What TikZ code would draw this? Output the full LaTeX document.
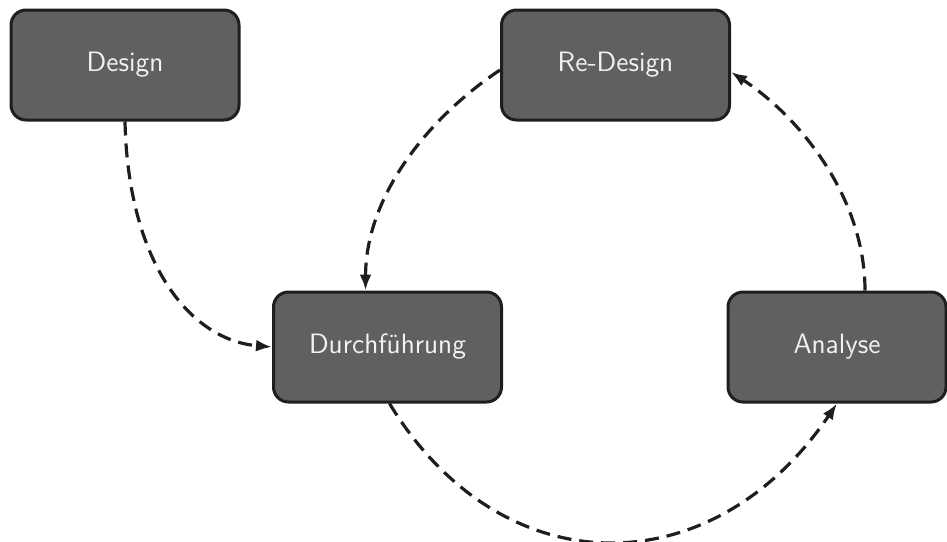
\documentclass[tikz,border=0pt]{standalone}
\usetikzlibrary{arrows.meta,calc}
\renewcommand{\familydefault}{\sfdefault}
\definecolor{boxfill}{HTML}{606062}
\definecolor{boxline}{HTML}{1E1E1E}
\definecolor{boxtext}{HTML}{F2F2F2}
\tikzset{
  stagebox/.style={draw=boxline, line width=1.5pt, fill=boxfill, rounded corners=7.5pt,
    minimum width=114pt, minimum height=55pt, text=boxtext, font=\fontsize{14}{16}\selectfont, inner sep=0pt},
  flow/.style={draw=boxline, line width=1.6pt, dash pattern=on 7pt off 4pt,
    -{Latex[length=8pt,width=6pt]}}
}
\begin{document}
\begin{tikzpicture}[x=0.5pt,y=-0.5pt]
\useasboundingbox (0,0) rectangle (947,541);
\node[stagebox] (ds) at (125,65) {Design};
\node[stagebox] (rd) at (615.5,65) {Re-Design};
\node[stagebox] (du) at (387.5,347) {Durchführung};
\node[stagebox, minimum width=109pt] (an) at (837,347) {Analyse};
\draw[flow] (ds.south) .. controls +(3,140) and +(-83,-7) .. (du.west);
\draw[flow] ($(rd.west)+(0,5)$) .. controls +(-75,50) and +(0,-92) .. ($(du.north west)!0.405!(du.north east)$);
\draw[flow] ($(du.south)+(2,0)$) .. controls +(112,184) and +(-125,184) .. (an.south);
\draw[flow] ($(an.north)+(28,0)$) .. controls +(0,-92) and +(70,46) .. ($(rd.east)+(0,7)$);
\end{tikzpicture}
\end{document}
